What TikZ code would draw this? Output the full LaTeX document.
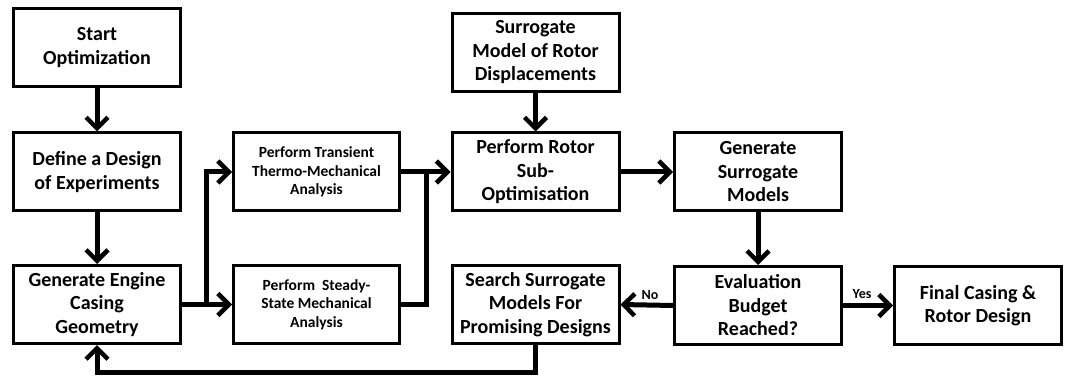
\documentclass[tikz,border=0pt]{standalone}
\usepackage{fontspec}
\setmainfont{Carlito}
\usetikzlibrary{arrows.meta}
\begin{document}
\begin{tikzpicture}[x=1pt,y=-1pt,
  box/.style={draw, line width=3pt, align=center, inner sep=2pt,
    font=\bfseries\fontsize{20}{23.5}\selectfont},
  bigbox/.style={box, minimum width=167pt, minimum height=78pt},
  smallbox/.style={box, minimum width=166pt, minimum height=78pt,
    font=\bfseries\fontsize{15.5}{18.5}\selectfont},
  flow/.style={line width=5pt, -{Straight Barb[length=11pt,width=22pt,line width=4.5pt]}},
  wire/.style={line width=5pt},
  lbl/.style={font=\bfseries\fontsize{14}{16}\selectfont, inner sep=0pt}]
\useasboundingbox (0,0) rectangle (1072,377);

\node[bigbox] (start)  at (97,47.5)    {Start\\Optimization};
\node[bigbox] (define) at (97,172)     {Define a Design\\of Experiments};
\node[bigbox] (geom)   at (97,304.5)   {Generate Engine\\Casing\\Geometry};
\node[smallbox] (trans)  at (316.5,172)   {Perform Transient\\Thermo-Mechanical\\Analysis};
\node[smallbox] (steady) at (316.5,304.5) {Perform\ \ Steady-\\State Mechanical\\Analysis};
\node[bigbox] (surr)   at (535.5,52.5)  {Surrogate\\Model of Rotor\\Displacements};
\node[bigbox] (rotor)  at (535.5,172)   {Perform Rotor\\Sub-\\Optimisation};
\node[bigbox] (search) at (535.5,304.5) {Search Surrogate\\Models For\\Promising Designs};
\node[bigbox] (gensur) at (758,172)     {Generate\\Surrogate\\Models};
\node[bigbox] (eval)   at (758,305.5)   {Evaluation\\Budget\\Reached?};
\node[bigbox] (final)  at (978,305.5)   {Final Casing \&\\Rotor Design};

\coordinate (split) at (206,304.5);
\coordinate (join)  at (426,304.5);
\coordinate (loopR) at (535.5,372);
\coordinate (loopL) at (97,372);

\draw[flow] (start) -- (define);
\draw[flow] (define) -- (geom);
\draw[flow] (geom.east) -- (steady.west);
\draw[flow] (split) |- (trans.west);
\draw[flow] (trans.east) -- (rotor.west);
\draw[wire] (steady.east) -- (join) -- (join |- rotor.west);
\draw[flow] (surr) -- (rotor);
\draw[flow] (rotor) -- (gensur);
\draw[flow] (gensur) -- (eval);
\draw[flow] (eval.west) -- (search.east);
\draw[flow] (eval.east) -- (final.west);
\draw[flow] (search.south) -- (loopR) -- (loopL) -- (geom.south);

\node[lbl] (no)  at (650,295) {No};
\node[lbl] (yes) at (862,294) {Yes};
\end{tikzpicture}
\end{document}
